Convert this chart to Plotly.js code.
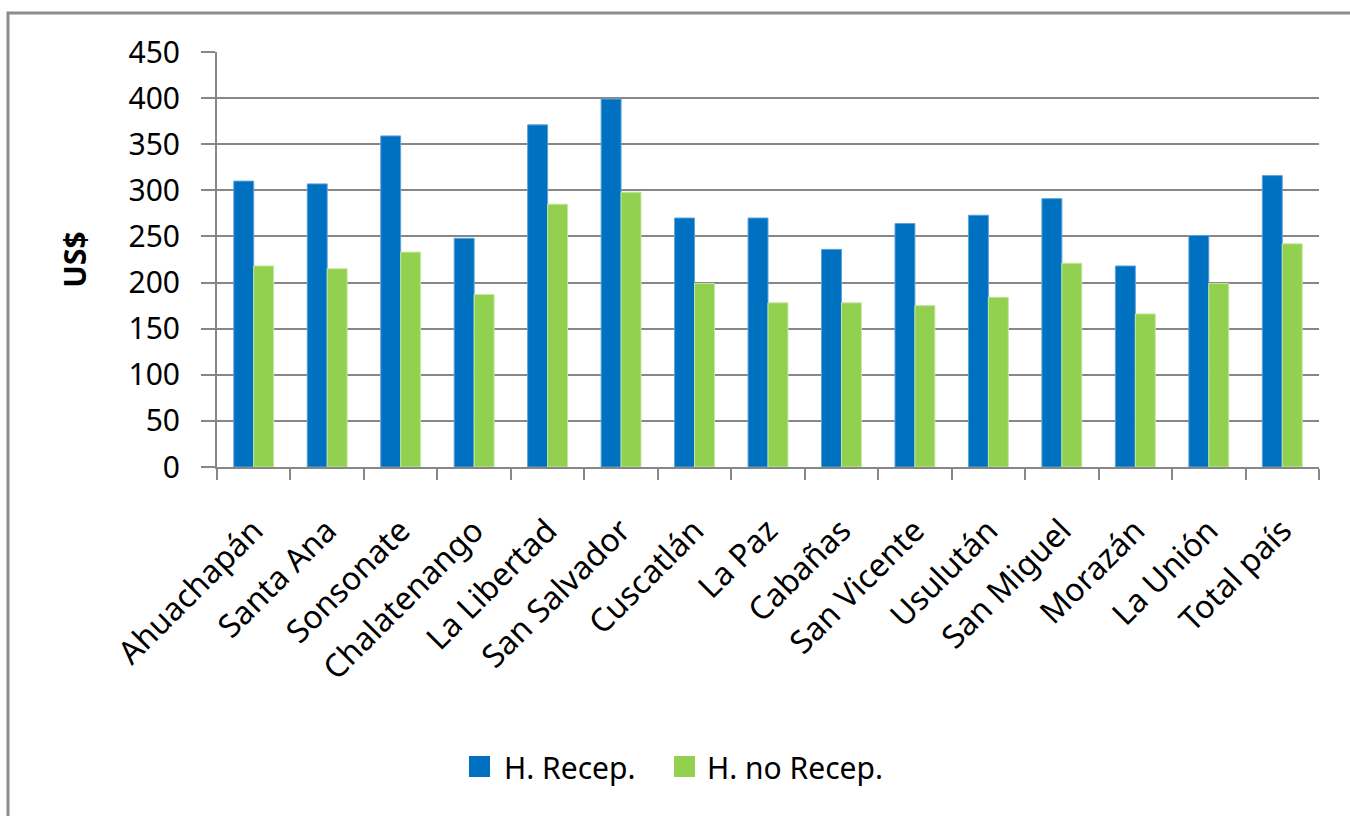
<!DOCTYPE html>
<html>
<head>
<meta charset="utf-8">
<script src="https://cdn.plot.ly/plotly-3.0.1.min.js"></script>
<style>
html,body{margin:0;padding:0;background:#fff;overflow:hidden;}
#chart{width:1350px;height:816px;}
</style>
</head>
<body>
<div id="chart"></div>
<script>
// ---- data ----
const departamentos = ["Ahuachapán","Santa Ana","Sonsonate","Chalatenango","La Libertad","San Salvador","Cuscatlán","La Paz","Cabañas","San Vicente","Usulután","San Miguel","Morazán","La Unión","Total país"];
const hRecep   = [310, 307, 359, 248, 371, 399, 270, 270, 236, 264, 273, 291, 218, 251, 316];
const hNoRecep = [218, 215, 233, 187, 285, 298, 199, 178, 178, 175, 184, 221, 166, 199, 242];
const seriesNames = ["H. Recep.", "H. no Recep."];
const seriesColors = ["#0070C0", "#92D050"];
const yTitle = "US$";

// ---- layout helpers (pixel -> paper) ----
const L = 217, R = 1319, T = 52, B = 467, W = 1350, H = 816;
const fx = x => (x - L) / (R - L);
const fy = y => (B - y) / (B - T);
const FONT = "Noto Sans, sans-serif";
const GRAY = "#878787";

const traces = [
  {type:"bar", name:seriesNames[0], x:departamentos, y:hRecep,
   marker:{color:seriesColors[0], line:{color:"#5fa3da", width:1}}, showlegend:false},
  {type:"bar", name:seriesNames[1], x:departamentos, y:hNoRecep,
   marker:{color:seriesColors[1], line:{color:"#c4e7a3", width:1}}, showlegend:false}
];

const legendItems = [{sx:469, tx:502}, {sx:674, tx:705}];
const shapes = [
  {type:"rect", xref:"paper", yref:"paper", x0:fx(8), x1:fx(1420), y0:fy(13), y1:fy(900),
   line:{color:"#8c8c8c", width:3}, layer:"below"}
];
const annotations = [];
legendItems.forEach((it, i) => {
  shapes.push({type:"rect", xref:"paper", yref:"paper", x0:fx(it.sx), x1:fx(it.sx+21),
    y0:fy(777), y1:fy(756), fillcolor:seriesColors[i], line:{width:0}});
  annotations.push({xref:"paper", yref:"paper", x:fx(it.tx), y:fy(767), xanchor:"left", yanchor:"middle",
    text:seriesNames[i], showarrow:false, font:{family:FONT, size:30, color:"#000"}});
});

const layout = {
  width:W, height:H,
  margin:{l:L, r:W-R, t:T, b:H-B, pad:0},
  paper_bgcolor:"#fff", plot_bgcolor:"#fff",
  barmode:"group", bargap:0.457, bargroupgap:0,
  showlegend:false,
  font:{family:FONT, color:"#000"},
  xaxis:{type:"category", tickson:"boundaries", ticks:"outside", ticklen:11, tickwidth:2, tickcolor:GRAY,
    showline:true, linecolor:GRAY, linewidth:2, showgrid:false, tickangle:-45,
    tickfont:{family:FONT, size:32, color:"#000"}, automargin:false, ticklabelstandoff:30},
  yaxis:{range:[0,450], dtick:50, tick0:0, ticks:"outside", ticklen:14, tickwidth:2, tickcolor:GRAY,
    showline:true, linecolor:GRAY, linewidth:2, showgrid:true, gridcolor:GRAY, gridwidth:2,
    zeroline:false, tickfont:{family:FONT, size:30, color:"#000"}, automargin:false, ticklabelstandoff:15,
    title:{text:"<b>"+yTitle+"</b>", font:{family:FONT, size:30, color:"#000"}, standoff:33}},
  shapes:shapes,
  annotations:annotations
};

Plotly.newPlot("chart", traces, layout, {displayModeBar:false, staticPlot:true});
</script>
</body>
</html>
